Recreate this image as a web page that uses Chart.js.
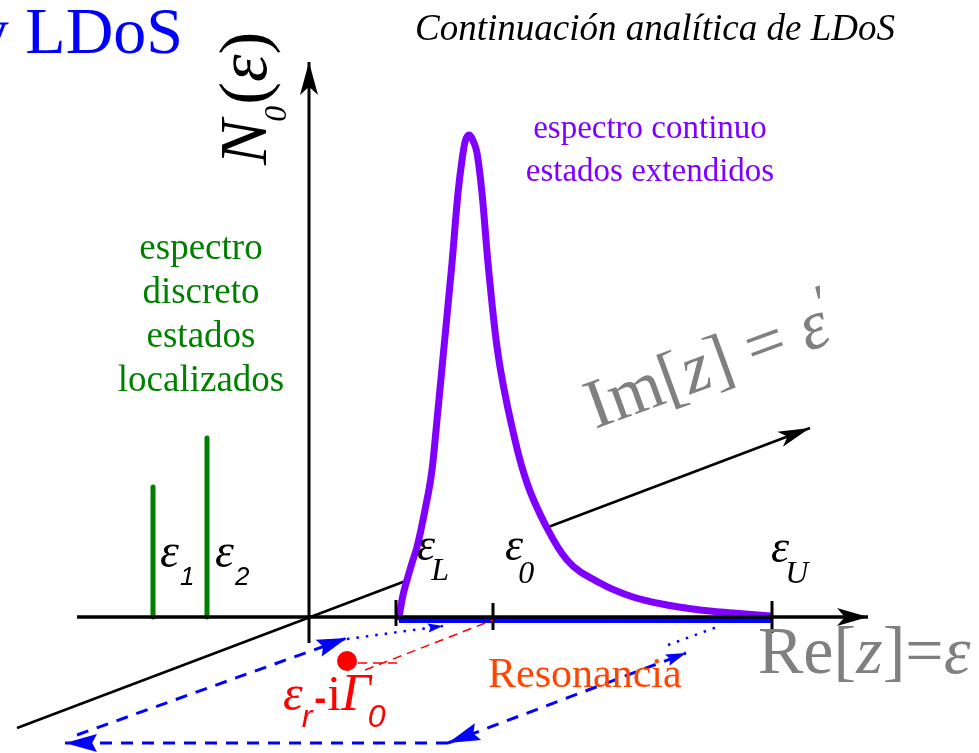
<!DOCTYPE html>
<html><head><meta charset="utf-8">
<script src="https://cdn.jsdelivr.net/npm/chart.js@4/dist/chart.umd.min.js"></script>
<style>html,body{margin:0;padding:0;background:#fff;overflow:hidden}canvas{display:block}</style>
</head><body>
<canvas id="c" width="979" height="753"></canvas>
<script>
// ---- data (diagram units: energy along Re axis, N0 upward) ----
const curveE = [0.90,0.94,0.98,1.03,1.08,1.16,1.23,1.28,1.35,1.43,1.49,1.53,1.56,1.60,1.65,1.68,1.73,1.79,1.88,2.06,2.18,2.38,2.58,2.91,3.24,3.58,3.91,4.24,4.61];
const curveN = [0.00,0.22,0.37,0.54,0.70,1.07,1.47,1.97,2.70,3.54,4.24,4.57,4.75,4.82,4.74,4.64,4.24,3.54,2.70,1.77,1.34,0.89,0.57,0.34,0.20,0.12,0.07,0.04,0.01];
const discreteE = [-1.56, -1.02];
const discreteN = [1.30, 1.79];
const discreteLabels = ['1', '2'];
const markE = [0.87, 1.84, 4.63];
const markLabels = ['L', '0', 'U'];
const reAxisE = [-2.32, 5.59];
const nAxisN = [-0.26, 5.55];
const imAxisE = [-2.92, 5.01];
const imAxisN = [-1.11, 1.89];
const contourE = [0.90, 4.63];
const contourN = [-0.035, -0.035];
const leftDashE = [-2.32, 0.38],  leftDashN = [-1.18, -0.21];
const bottomDashE = [1.39, -2.44], bottomDashN = [-1.26, -1.26];
const rightDashE = [1.39, 3.77],  rightDashN = [-1.26, -0.36];
const leftDotE = [0.38, 1.34],    leftDotN = [-0.22, -0.09];
const rightDotE = [3.59, 4.08],   rightDotN = [-0.28, -0.10];
const resonanceE = [0.38], resonanceN = [-0.44];
const gammaDashE = [0.56, 1.84],  gammaDashN = [-0.53, -0.03];
const gammaTickE = [0.49, 0.91],  gammaTickN = [-0.46, -0.46];

const pts = (xs, ys) => xs.map((x, i) => ({x, y: ys[i]}));
const SERIF = '"Liberation Serif","Times New Roman",serif';
const SANS = '"Liberation Sans",Arial,sans-serif';
const PURPLE = '#7f00ff', BLUE = '#0000ff', GREEN = '#008000', GRAY = '#808080';

const line = (data, color, width, order, extra) => Object.assign({
  data, showLine: true, borderColor: color, borderWidth: width, pointRadius: 0,
  fill: false, order, tension: 0, borderCapStyle: 'butt'
}, extra || {});

const datasets = [
  line(pts(imAxisE, imAxisN), '#000', 2.5, 10),
  line(pts(curveE, curveN), PURPLE, 7, 9, {fill: 'origin', backgroundColor: '#ffffff', cubicInterpolationMode: 'monotone', borderCapStyle: 'round', borderJoinStyle: 'round'}),
  ...discreteE.map((e, i) => line(pts([e, e], [0, discreteN[i]]), GREEN, 5, 8, {borderCapStyle: 'round'})),
  line(pts(contourE, contourN), BLUE, 5, 7),
  line(pts(reAxisE, [0, 0]), '#000', 3.5, 6),
  line(pts([0, 0], nAxisN), '#000', 3, 6),
  ...markE.map((e, i) => line(pts([e, e], [[0.17, 0.14, 0.16][i], [-0.09, -0.13, -0.16][i]]), '#000', 3, 5)),
  line(pts(leftDashE, leftDashN), BLUE, 3, 4, {borderDash: [12, 9]}),
  line(pts(bottomDashE, bottomDashN), BLUE, 3, 4, {borderDash: [12, 9]}),
  line(pts(rightDashE, rightDashN), BLUE, 3, 4, {borderDash: [12, 9]}),
  line(pts(leftDotE, leftDotN), BLUE, 2.5, 4, {borderDash: [2.5, 7]}),
  line(pts(rightDotE, rightDotN), BLUE, 2.5, 4, {borderDash: [2.5, 7]}),
  line(pts(gammaDashE, gammaDashN), '#ff0000', 1.5, 4, {borderDash: [9, 6]}),
  line(pts(gammaTickE, gammaTickN), '#ff0000', 1.5, 4, {borderDash: [9, 6]}),
  {data: pts(resonanceE, resonanceN), showLine: false, pointRadius: 10, pointBackgroundColor: '#ff0000', pointBorderWidth: 0, order: 3}
];

function runs(ctx, x, y, parts) {
  let cx = x;
  for (const p of parts) {
    ctx.font = p.f;
    ctx.fillText(p.t, cx + (p.dx || 0), y + (p.dy || 0));
    cx += ctx.measureText(p.t).width + (p.dx || 0) + (p.gap || 0);
  }
  return cx - x;
}

function arrow(ctx, tx, ty, fx, fy, len, hw, color, notch) {
  const dx = tx - fx, dy = ty - fy, L = Math.hypot(dx, dy);
  const ux = dx / L, uy = dy / L, nx = -uy, ny = ux;
  const k = notch || 0.75;
  ctx.fillStyle = color;
  ctx.beginPath();
  ctx.moveTo(tx, ty);
  ctx.lineTo(tx - ux * len + nx * hw, ty - uy * len + ny * hw);
  ctx.lineTo(tx - ux * len * k, ty - uy * len * k);
  ctx.lineTo(tx - ux * len - nx * hw, ty - uy * len - ny * hw);
  ctx.closePath();
  ctx.fill();
}

const annot = {
  id: 'annot',
  afterDatasetsDraw(chart) {
    const ctx = chart.ctx, sx = chart.scales.x, sy = chart.scales.y;
    const X = v => sx.getPixelForValue(v), Y = v => sy.getPixelForValue(v);
    ctx.save();
    // arrowheads
    arrow(ctx, X(0), Y(nAxisN[1]), X(0), Y(nAxisN[0]), 33, 9, '#000');
    arrow(ctx, X(reAxisE[1]), Y(0), X(reAxisE[0]), Y(0), 31, 9, '#000');
    arrow(ctx, X(imAxisE[1]), Y(imAxisN[1]), X(imAxisE[0]), Y(imAxisN[0]), 32, 8, '#000');
    arrow(ctx, X(leftDashE[1]), Y(leftDashN[1]), X(leftDashE[0]), Y(leftDashN[0]), 30, 9, BLUE, 0.85);
    arrow(ctx, X(bottomDashE[1]), Y(bottomDashN[1]), X(bottomDashE[0]), Y(bottomDashN[0]), 32, 9, BLUE, 0.85);
    arrow(ctx, X(rightDashE[0]), Y(rightDashN[0]), X(rightDashE[1]), Y(rightDashN[1]), 32, 9, BLUE, 0.85);
    arrow(ctx, X(rightDashE[1]), Y(rightDashN[1]), X(rightDashE[0]), Y(rightDashN[0]), 20, 6, BLUE, 0.85);
    arrow(ctx, X(leftDotE[1]), Y(leftDotN[1]), X(leftDotE[0]), Y(leftDotN[0]), 15, 4.5, BLUE, 0.85);

    ctx.textBaseline = 'alphabetic';
    // title pieces
    ctx.fillStyle = BLUE; ctx.textAlign = 'right';
    ctx.font = '66px ' + SERIF;
    ctx.fillText('y LDoS', X(-1.26), Y(5.64));
    ctx.fillStyle = '#000'; ctx.textAlign = 'center';
    ctx.font = 'italic 37px ' + SERIF;
    ctx.fillText('Continuación analítica de LDoS', X(3.46), Y(5.77));
    // purple
    ctx.fillStyle = PURPLE; ctx.font = '33px ' + SERIF;
    ctx.fillText('espectro continuo', X(3.41), Y(4.79));
    ctx.fillText('estados extendidos', X(3.41), Y(4.36));
    // green
    ctx.fillStyle = GREEN; ctx.font = '37px ' + SERIF;
    ['espectro', 'discreto', 'estados', 'localizados'].forEach((t, i) =>
      ctx.fillText(t, X(-1.08), Y(3.58 - 0.44 * i)));
    ctx.textAlign = 'left';
    // N0(eps) rotated
    ctx.fillStyle = '#000';
    ctx.save();
    ctx.translate(X(-0.43), Y(4.52));
    ctx.rotate(-Math.PI / 2);
    runs(ctx, 0, 0, [
      {t: 'N', f: 'italic 68px ' + SERIF},
      {t: '0', f: 'italic 32px ' + SERIF, dy: 20, dx: -2},
      {t: '(', f: '68px ' + SERIF, dx: 1},
      {t: 'ε', f: 'italic 70px ' + SERIF},
      {t: ')', f: '68px ' + SERIF}
    ]);
    ctx.restore();
    // discrete labels
    [-1.49, -0.94].forEach((x, i) => runs(ctx, X(x), Y(0.50), [
      {t: 'ε', f: 'italic 48px ' + SERIF},
      {t: discreteLabels[i], f: 'italic 26px ' + SANS, dy: 18, dx: 1}
    ]));
    // continuum marks
    [[1.08, 0.57, 20, -4], [1.96, 0.57, 23, -5], [4.62, 0.55, 21, -4]].forEach((p, i) => runs(ctx, X(p[0]), Y(p[1]), [
      {t: 'ε', f: 'italic 46px ' + SERIF},
      {t: markLabels[i], f: 'italic 32px ' + SERIF, dy: p[2], dx: p[3]}
    ]));
    // Im[z] label
    ctx.fillStyle = GRAY;
    ctx.save();
    ctx.translate(X(2.86), Y(1.88));
    ctx.rotate(-20 * Math.PI / 180);
    runs(ctx, 0, 0, [
      {t: 'Im', f: '70px ' + SERIF},
      {t: '[', f: '70px ' + SERIF},
      {t: 'z', f: 'italic 70px ' + SERIF},
      {t: ']', f: '70px ' + SERIF},
      {t: ' = ', f: '70px ' + SERIF},
      {t: 'ε', f: 'italic 70px ' + SERIF},
      {t: '′', f: '52px ' + SERIF, dy: -24, dx: -2}
    ]);
    ctx.restore();
    // Re[z] label
    runs(ctx, X(4.49), Y(-0.56), [
      {t: 'Re', f: '68px ' + SERIF},
      {t: '[', f: '68px ' + SERIF},
      {t: 'z', f: 'italic 68px ' + SERIF},
      {t: ']', f: '68px ' + SERIF},
      {t: '=', f: '68px ' + SERIF},
      {t: 'ε', f: 'italic 68px ' + SERIF}
    ]);
    // Resonancia
    ctx.fillStyle = '#ff4500'; ctx.font = '42px ' + SERIF;
    ctx.fillText('Resonancia', X(1.79), Y(-0.70));
    // eps_r - i Gamma_0
    ctx.fillStyle = '#ff0000';
    runs(ctx, X(-0.26), Y(-0.93), [
      {t: 'ε', f: 'italic 50px ' + SERIF},
      {t: 'r', f: 'italic 32px ' + SANS, dy: 17, dx: -1},
      {t: '-', f: 'bold 36px ' + SANS, dx: 2},
      {t: 'i', f: '50px ' + SERIF, dx: 1},
      {t: 'Γ', f: 'italic 52px ' + SERIF},
      {t: '0', f: 'italic 32px ' + SANS, dy: 17, dx: -3}
    ]);
    ctx.restore();
  }
};

new Chart(document.getElementById('c'), {
  type: 'scatter',
  data: {datasets},
  options: {
    responsive: false,
    animation: false,
    layout: {padding: 0, autoPadding: false},
    scales: {
      x: {type: 'linear', min: -3.09, max: 6.70, display: false},
      y: {type: 'linear', min: -1.36, max: 6.17, display: false}
    },
    plugins: {legend: {display: false}, tooltip: {enabled: false}, title: {display: false}},
    events: []
  },
  plugins: [annot]
});
</script>
</body></html>
